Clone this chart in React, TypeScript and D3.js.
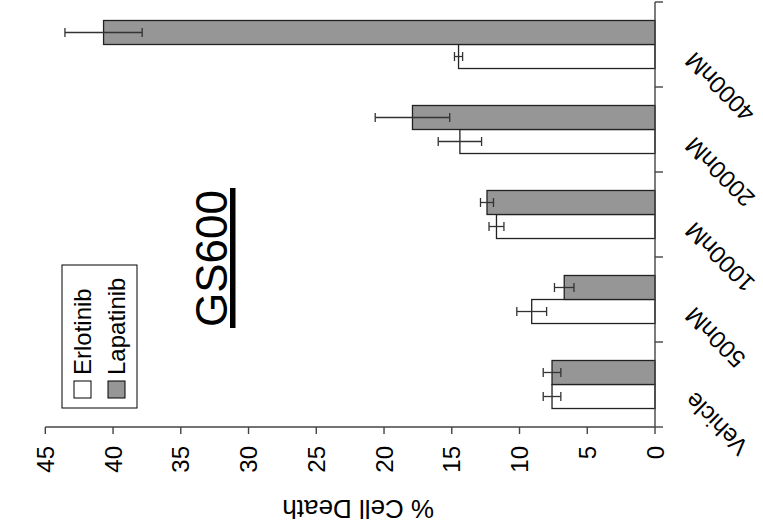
import React from "react";
import * as d3 from "d3";

const categories = ["Vehicle", "500nM", "1000nM", "2000nM", "4000nM"];
const seriesNames = ["Erlotinib", "Lapatinib"];
const erlotinib = [7.6, 9.1, 11.7, 14.4, 14.5];
const erlotinibErr = [0.65, 1.1, 0.55, 1.6, 0.3];
const lapatinib = [7.6, 6.7, 12.4, 17.9, 40.7];
const lapatinibErr = [0.65, 0.72, 0.48, 2.75, 2.85];
const yTicks = [0, 5, 10, 15, 20, 25, 30, 35, 40, 45];

const W = 763;
const H = 527;
const FONT = "'Liberation Sans', Arial, sans-serif";
const GRAY = "#969696";

export default function App() {
  // chart drawn in un-rotated frame (527 wide x 763 tall), then rotated -90deg
  const x0 = 100, x1 = 525;
  const yBase = 655, yTop = 45.3;
  const x = d3.scaleBand<string>().domain(categories).range([x0, x1]).paddingInner(0.435).paddingOuter(0.2175);
  const sub = d3.scaleBand<string>().domain(seriesNames).range([0, x.bandwidth()]);
  const y = d3.scaleLinear().domain([0, 45]).range([yBase, yTop]);
  const step = x.step();
  const catTicks = d3.range(categories.length + 1).map((i) => x0 + i * step);

  const series = [
    { name: "Erlotinib", vals: erlotinib, errs: erlotinibErr, fill: "#ffffff" },
    { name: "Lapatinib", vals: lapatinib, errs: lapatinibErr, fill: GRAY },
  ];

  return (
    <svg width={W} height={H} style={{ position: "absolute", left: 0, top: 0, background: "#fff" }} fontFamily={FONT}>
      <rect width={W} height={H} fill="#fff" />
      <g transform={`translate(0,${H}) rotate(-90)`}>
        {/* bars */}
        {series.map((s) =>
          categories.map((c, i) => (
            <rect
              key={s.name + c}
              x={(x(c) as number) + (sub(s.name) as number)}
              y={y(s.vals[i])}
              width={sub.bandwidth()}
              height={yBase - y(s.vals[i])}
              fill={s.fill}
              stroke="#222"
              strokeWidth={1.3}
            />
          ))
        )}
        {/* error bars */}
        {series.map((s) =>
          categories.map((c, i) => {
            const cx = (x(c) as number) + (sub(s.name) as number) + sub.bandwidth() / 2;
            const ya = y(s.vals[i] - s.errs[i]);
            const yb = y(s.vals[i] + s.errs[i]);
            return (
              <g key={"e" + s.name + c} stroke="#333" strokeWidth={1.3}>
                <line x1={cx} x2={cx} y1={ya} y2={yb} />
                <line x1={cx - 4.5} x2={cx + 4.5} y1={ya} y2={ya} />
                <line x1={cx - 4.5} x2={cx + 4.5} y1={yb} y2={yb} />
              </g>
            );
          })
        )}
        {/* value axis */}
        <g stroke="#444" strokeWidth={1.4}>
          <line x1={x0} x2={x0} y1={yTop} y2={yBase} />
          {yTicks.map((t) => (
            <line key={t} x1={x0 - 7} x2={x0} y1={y(t)} y2={y(t)} />
          ))}
        </g>
        {yTicks.map((t) => (
          <text key={"l" + t} x={81} y={y(t)} textAnchor="end" dominantBaseline="central" fontSize={24} fill="#000">
            {t}
          </text>
        ))}
        <text transform={`translate(18,${(yTop + yBase) / 2 + 8}) rotate(-90)`} textAnchor="middle" dominantBaseline="central" fontSize={26} fill="#000">
          % Cell Death
        </text>
        {/* category axis */}
        <g stroke="#444" strokeWidth={1.4}>
          <line x1={x0} x2={x1} y1={yBase} y2={yBase} />
          {catTicks.map((t, i) => (
            <line key={i} x1={t} x2={t} y1={yBase} y2={yBase + 8} />
          ))}
        </g>
        {categories.map((c) => {
          const cx = (x(c) as number) + x.bandwidth() / 2;
          return (
            <text key={"c" + c} transform={`translate(${cx - 6},${yBase + 40}) rotate(-45)`} textAnchor="end" fontSize={24} fill="#000">
              {c}
            </text>
          );
        })}
        {/* legend */}
        <rect x={119} y={62} width={143} height={75} fill="#fff" stroke="#000" strokeWidth={1} />
        {series.map((s, i) => (
          <g key={"lg" + s.name}>
            <rect x={129} y={74 + i * 34} width={17} height={17} fill={s.fill} stroke="#000" strokeWidth={1} />
            <text x={152} y={91 + i * 34} fontSize={24} fill="#000">
              {s.name}
            </text>
          </g>
        ))}
        {/* title */}
        <text x={200} y={227} fontSize={44} fill="#000">
          GS600
        </text>
        <rect x={199} y={230} width={140} height={5.5} fill="#000" />
      </g>
    </svg>
  );
}
